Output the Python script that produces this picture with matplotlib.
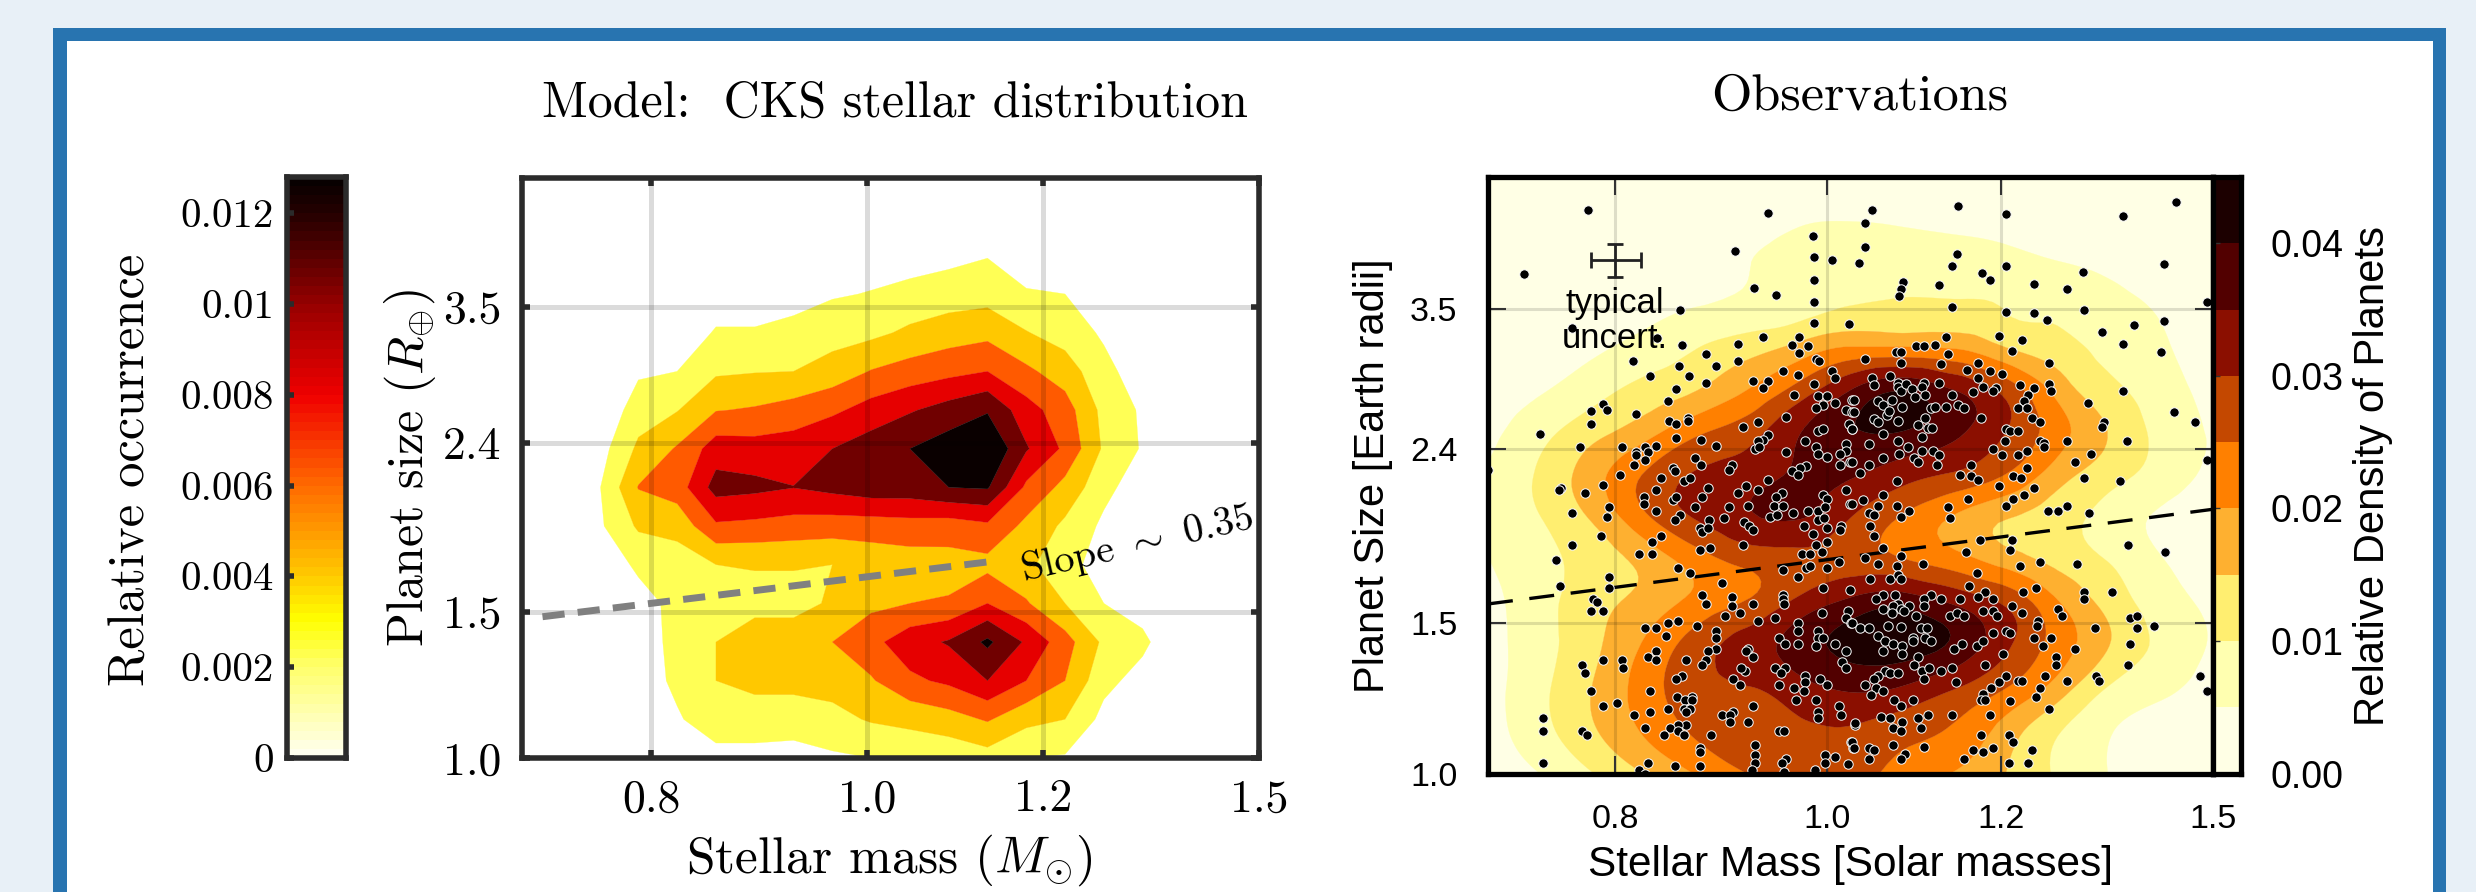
import numpy as np
import matplotlib
matplotlib.use("Agg")
import matplotlib.pyplot as plt
from matplotlib.colors import LinearSegmentedColormap, ListedColormap, BoundaryNorm
from matplotlib.patches import Rectangle
from matplotlib.ticker import NullLocator
from matplotlib.tri import Triangulation, UniformTriRefiner

W, H = 2476, 892
SERIF = "cmr10"
SANS = "Liberation Sans"
plt.rcParams["mathtext.fontset"] = "cm"
plt.rcParams["axes.formatter.use_mathtext"] = True

# ---------- data: left panel (relative occurrence, in units of 0.002), one list per mass column
model_columns = [
    [0]*16, [0]*16,
    [0,0,0,0,0,.3,.85,.95,.6,.2,0,0,0,0,0,0],
    [0,.1,.5,.5,.6,1.2,2.15,3.05,2.2,1.5,.85,.2,0,0,0,0],
    [0,.9,1.2,1.3,1.3,1.5,2.35,3.5,3.1,1.95,1.0,.3,0,0,0,0],
    [.7,1.5,2.0,2.0,1.6,2.0,3.85,5.4,4.5,2.95,1.85,1.1,.4,0,0,0],
    [.7,1.5,2.3,2.4,1.75,2.05,3.75,5.25,4.4,3.1,1.95,1.1,.4,0,0,0],
    [.6,1.5,2.3,2.4,1.75,2.05,3.6,5.02,4.5,3.4,2.0,1.3,.6,0,0,0],
    [.85,1.7,2.4,3.0,2.1,2.0,3.5,5.3,5.0,3.8,2.4,1.6,.9,.2,0,0],
    [1.0,2.1,2.9,3.7,2.75,2.35,3.5,5.6,5.5,4.4,3.05,1.75,1.05,.5,0,0],
    [1.2,2.3,3.8,4.6,3.0,2.5,3.6,5.6,6.0,4.9,3.4,2.2,1.25,.6,0,0],
    [1.3,2.6,4.2,5.1,3.1,2.6,3.5,6.0,6.5,5.4,3.7,2.5,1.5,.7,0,0],
    [1.6,3.1,5.0,6.2,4.0,2.7,3.8,6.1,7.0,5.9,4.0,2.7,1.6,.95,.2,0],
    [1.0,2.3,4.0,4.85,3.1,2.2,2.75,3.8,5.1,4.4,3.2,2.05,1.1,.4,0,0],
    [.9,2.0,3.0,3.4,2.0,1.4,1.8,2.7,3.8,3.45,2.5,1.55,1.0,.3,0,0],
    [0,.7,1.3,1.8,1.0,.5,.8,1.3,1.85,1.7,1.3,.85,.3,0,0,0],
    [0,0,.6,1.25,.5,0,0,.4,.9,.85,.45,0,0,0,0,0],
    [0]*16, [0]*16, [0]*16,
]
model_levels = [0.002, 0.004, 0.006, 0.008, 0.010, 0.012, 1.0]
model_colors = ["#ffff55", "#ffc800", "#ff5a00", "#e60000", "#700000", "#0a0000"]
occurrence_stops = [(0.0, "#ffffee"), (0.002, "#ffff66"), (0.003, "#ffff00"), (0.004, "#ffc800"),
                    (0.006, "#ff6a00"), (0.008, "#f00000"), (0.010, "#980000"), (0.012, "#280000"),
                    (0.0128, "#080000")]
slope_line_mass = [0.715, 1.135]
slope_line_radius = [1.48, 1.724]

# ---------- data: right panel (relative density, in units of 0.005), rows bottom to top
obs_rows = [
    [.3,1.0,1.95,3.0,4.05,5.0,5.2,5.3,4.65,3.95,3.0,1.85,.98,.55,.35],
    [.6,1.65,2.85,4.1,5.15,5.6,5.8,5.9,5.4,4.85,3.55,2.1,1.05,.65,.4],
    [.6,1.75,3.0,4.45,5.55,5.95,6.6,7.15,6.9,6.05,5.0,3.55,1.9,1.2,.6],
    [.65,1.6,2.75,4.1,5.45,6.45,7.5,8.3,8.5,7.8,6.2,4.55,3.0,1.75,.9],
    [.75,1.6,2.6,3.35,4.3,5.1,6.3,7.3,7.7,6.9,5.85,4.1,2.65,1.45,.8],
    [.98,1.65,2.4,3.3,4.45,5.3,5.6,5.5,5.1,4.45,3.55,2.7,1.95,1.05,.55],
    [1.15,1.97,3.1,4.75,6.05,6.85,7.05,6.0,4.9,3.9,3.05,2.4,1.6,.85,.5],
    [1.1,2.15,3.55,5.05,6.1,6.55,7.15,7.1,6.4,5.85,4.95,3.45,2.4,1.55,.75],
    [.75,1.65,2.65,3.6,4.8,5.6,6.95,7.9,7.95,7.2,6.0,4.4,2.95,1.7,.9],
    [.55,.9,1.6,2.3,2.95,4.0,5.4,7.0,7.95,7.0,5.65,3.65,2.3,1.4,.7],
    [.2,.35,.8,1.35,1.95,2.55,3.3,4.05,4.05,3.9,3.0,2.4,1.65,1.1,.55],
    [.15,.2,.35,.6,.95,1.2,1.5,1.98,2.1,2.1,1.95,1.7,1.25,.9,.4],
    [.15,.18,.22,.3,.5,.95,1.43,1.5,1.48,1.41,1.29,1.02,.8,.5,.3],
    [.1,.1,.15,.2,.3,.4,.85,.97,.9,.8,.7,.5,.35,.2,.1],
    [.05,.05,.05,.1,.1,.1,.25,.3,.3,.3,.25,.2,.15,.1,.05],
]
obs_colors = ["#ffffe5", "#ffffb0", "#ffee70", "#feb030", "#ff8000",
              "#c44800", "#8b0f00", "#520000", "#1c0000"]

# planets: (stellar mass, planet radius)
planets_upper_left = [
(.778,4.57),(.94,4.54),(.727,3.85),(.908,4.09),(.985,4.26),(1.04,4.42),(1.04,4.14),(.986,4.03),(1.005,4.0),
(.986,3.79),(.926,3.71),(.948,3.64),(.986,3.57),(.857,3.49),(.986,3.37),(1.023,3.36),(.765,3.33),(.836,3.24),
(.858,3.18),(.935,3.25),(.971,3.25),(.964,3.18),(.98,3.17),(.971,3.11),(.91,3.19),(.88,3.10),(.91,3.04),
(.988,3.06),(.991,3.04),(.815,3.04),(.856,3.0),(.89,3.0),(.83,2.92),(.865,2.92),(.955,2.96),(.97,2.93),
(1.005,2.96),(1.008,2.91),(.925,2.88),(.94,2.88),(.935,2.83),(.88,2.87),(.853,2.82),(.986,2.86),(.966,2.78),
(.846,2.73),(.79,2.71),(.78,2.66),(.793,2.67),(.818,2.64),(.78,2.57),(.99,2.77),(1.0,2.77),(.995,2.70),
(.988,2.68),(1.008,2.72),(1.02,2.67),(1.026,2.74),(1.026,2.65),(.958,2.62),(.864,2.61),(.864,2.59),(.847,2.59),
(.853,2.57),(.93,2.58),(.915,2.55),(.739,2.50),(.99,2.52),(.996,2.53),(1.023,2.57),(1.026,2.53),(.853,2.47),
(.876,2.46),(.94,2.49),(.935,2.46),(.93,2.45),(.927,2.40),(.931,2.41),(.977,2.45),(.771,2.41),(.806,2.41),
(.89,2.42),(.835,2.42),(.826,2.41),(.818,2.38),(.818,2.36),(.828,2.38),(.826,2.33),(.958,2.38),(.988,2.41),
(.99,2.37),(1.0,2.35),(1.02,2.43),(1.02,2.39),(1.013,2.37),(1.024,2.32),(.70,2.27),(.816,2.30),(.87,2.34),
(.876,2.30),(1.013,2.30),(.804,2.24),(.85,2.28),(.852,2.26),(.905,2.30),(.902,2.27),(.978,2.29),(.972,2.28),
(.964,2.26),(.97,2.24),(.84,2.22),(.86,2.20),(.866,2.22),(.94,2.21),
]
planets_upper_right = [
(1.048,4.58),(1.147,4.62),(1.207,4.53),(1.365,4.50),(1.443,4.68),(1.034,3.96),(1.146,4.06),(1.14,3.93),(1.207,3.93),
(1.176,3.86),(1.186,3.79),(1.308,3.87),(1.425,3.95),(1.083,3.77),(1.08,3.70),(1.078,3.63),(1.125,3.74),(1.243,3.75),
(1.287,3.70),(1.49,3.57),(1.14,3.52),(1.207,3.47),(1.243,3.46),(1.26,3.40),(1.31,3.49),(1.425,3.39),(1.38,3.35),
(1.335,3.29),(1.365,3.19),(1.42,3.12),(1.198,3.26),(1.227,3.22),(1.133,3.25),(1.098,3.17),(1.107,3.17),(1.12,3.18),
(1.135,3.10),(1.214,3.13),(1.075,3.12),(1.08,3.12),(1.04,3.06),(1.08,3.03),(1.127,3.02),(1.172,3.03),(1.262,3.03),
(1.158,2.97),(1.186,2.96),(1.202,2.94),(1.172,2.91),(1.048,2.91),(1.068,2.92),(1.077,2.87),(1.077,2.84),(1.08,2.81),
(1.05,2.85),(1.086,2.86),(1.093,2.82),(1.107,2.87),(1.105,2.84),(1.125,2.87),(1.178,2.84),(1.194,2.83),(1.19,2.81),
(1.225,2.85),(1.243,2.83),(1.263,2.86),(1.265,2.81),(1.365,2.81),(1.165,2.80),(1.14,2.78),(1.108,2.78),(1.097,2.76),
(1.235,2.78),(1.028,2.74),(1.055,2.73),(1.07,2.74),(1.06,2.70),(1.315,2.72),(1.23,2.73),(1.222,2.68),(1.233,2.68),
(1.082,2.69),(1.115,2.68),(1.12,2.69),(1.133,2.69),(1.147,2.70),(1.155,2.68),(1.028,2.65),(1.065,2.63),(1.067,2.66),
(1.44,2.65),(1.472,2.58),(1.05,2.60),(1.055,2.58),(1.077,2.59),(1.108,2.61),(1.175,2.61),(1.24,2.61),(1.25,2.58),
(1.338,2.58),(1.335,2.55),(1.10,2.56),(1.112,2.54),(1.116,2.54),(1.207,2.53),(1.212,2.52),(1.222,2.52),(1.06,2.50),
(1.105,2.48),(1.026,2.53),(1.077,2.45),(1.205,2.45),(1.25,2.45),(1.256,2.44),(1.256,2.41),(1.287,2.45),(1.37,2.45),
(1.045,2.43),(1.088,2.41),(1.105,2.39),(1.117,2.39),(1.19,2.40),(1.234,2.39),(1.078,2.37),(1.202,2.36),(1.222,2.36),
(1.32,2.37),(1.125,2.36),(1.06,2.34),(1.095,2.34),(1.10,2.32),(1.026,2.32),(1.49,2.33),(1.297,2.32),(1.045,2.30),
(1.163,2.30),(1.122,2.30),(1.234,2.28),(1.035,2.25),(1.15,2.24),(1.163,2.23),(1.172,2.21),(1.215,2.23),(1.226,2.22),
(1.31,2.22),(1.36,2.20),(1.076,2.20),
]
planets_lower_left = [
(.756,2.16),(.754,2.15),(.775,2.13),(.79,2.18),(.825,2.11),(.825,2.07),(.835,2.15),(.835,2.03),(.795,2.05),(.793,2.0),
(.765,2.02),(.788,1.90),(.765,1.85),(.752,1.78),(.755,1.66),(.795,1.70),(.795,1.65),(.782,1.60),(.785,1.59),(.78,1.55),
(.79,1.55),(.84,1.90),(.832,1.87),(.832,1.81),(.82,1.81),(.855,1.74),(.866,1.72),(.875,1.83),(.884,1.84),(.915,1.85),
(.85,2.09),(.853,2.11),(.857,2.01),(.852,1.98),(.87,2.05),(.877,2.11),(.882,2.16),(.883,1.98),(.875,1.94),(.877,1.92),
(.882,1.94),(.897,1.99),(.902,2.05),(.916,1.97),(.921,1.95),(.925,1.93),(.91,2.13),(.918,2.17),(.92,2.06),(.93,2.15),
(.954,2.13),(.948,2.11),(.946,2.06),(.955,2.06),(.942,2.0),(.949,2.01),(.965,2.02),(.98,2.03),(.99,2.03),(.995,2.12),
(1.0,2.10),(.998,2.05),(1.02,2.15),(1.024,2.07),(.99,1.98),(.997,1.99),(.976,1.95),(.985,1.91),(1.0,1.94),(1.015,1.95),
(1.013,1.93),(.988,1.85),(1.0,1.87),(.994,1.82),(.974,1.81),(.982,1.81),(1.012,1.77),(1.0,1.74),(.978,1.74),(.982,1.75),
(.955,1.73),(.97,1.70),(.895,1.67),(.995,1.65),(1.024,1.64),(.877,1.62),(.905,1.61),(.955,1.62),(.955,1.60),(.956,1.58),
(.88,1.58),(.905,1.57),(.925,1.58),(.912,1.54),(.898,1.53),(.93,1.51),(.947,1.52),(.994,1.54),(.97,1.50),(1.022,1.55),
(1.02,1.52),(1.025,1.50),(.855,1.51),(.846,1.50),(.826,1.48),(.835,1.48),(.844,1.45),(.872,1.49),(.89,1.47),(.89,1.44),
(.97,1.47),(.99,1.47),(.95,1.44),(.957,1.42),(.97,1.42),(.99,1.44),(.995,1.44),(.988,1.41),(1.008,1.42),(.89,1.40),
(.882,1.39),(.92,1.40),(.918,1.39),(.925,1.37),(.835,1.39),(.828,1.37),(.835,1.36),(.862,1.36),(.88,1.36),(.877,1.34),
(.79,1.36),(.806,1.36),(.807,1.33),(.773,1.34),(.775,1.31),(.947,1.33),(.957,1.33),(.952,1.31),(.917,1.32),(.913,1.33),
(1.02,1.39),(1.016,1.35),(1.02,1.33),(.977,1.30),(.858,1.30),(.853,1.29),(.906,1.29),(.912,1.27),(.992,1.29),(.977,1.28),
(.976,1.25),(.95,1.27),(1.0,1.27),(.966,1.26),(.78,1.25),(.83,1.25),(.867,1.23),(.854,1.23),(.861,1.22),(.867,1.22),
(.968,1.22),(.988,1.22),(.802,1.21),(.79,1.20),(1.012,1.20),(.925,1.20),(.846,1.19),(.86,1.19),(.866,1.19),(.862,1.18),
(.83,1.18),(.816,1.17),(.99,1.18),(.99,1.16),(1.014,1.17),(.895,1.17),(.906,1.18),(.903,1.17),(.903,1.15),(.92,1.15),
(.742,1.16),(.742,1.12),(.773,1.12),(.777,1.11),(.862,1.14),(.826,1.13),(.855,1.14),(.848,1.13),(.855,1.12),(.86,1.11),
(.842,1.11),(.885,1.11),(.95,1.12),(.956,1.12),(1.03,1.14),(.927,1.08),(.875,1.07),(.875,1.06),(1.025,1.09),(.742,1.03),
(.998,1.05),(1.008,1.045),(.927,1.05),(.927,1.03),(.958,1.04),(.954,1.03),(.828,1.03),(.82,1.01),(.852,1.02),(.875,1.02),
(.924,1.01),(.987,1.01),(.998,1.03),(1.022,1.025),(1.027,1.07),(.956,1.005),(.826,1.0),
]
planets_lower_right = [
(1.038,2.09),(1.06,2.12),(1.055,2.06),(1.076,2.06),(1.026,2.07),(1.045,2.02),(1.05,2.01),(1.08,2.0),(1.09,2.03),
(1.046,1.95),(1.05,1.90),(1.135,2.05),(1.138,1.99),(1.16,2.10),(1.198,2.17),(1.243,2.16),(1.23,2.12),(1.215,2.10),(1.207,2.06),
(1.261,2.03),(1.274,2.03),(1.287,2.06),(1.316,2.02),(1.06,1.84),(1.04,1.79),(1.08,1.80),(1.055,1.76),(1.076,1.75),(1.106,1.76),
(1.157,1.82),(1.174,1.88),(1.214,1.88),(1.212,1.83),(1.372,1.85),(1.426,1.82),(1.225,1.75),(1.25,1.77),(1.30,1.76),(1.171,1.72),
(1.046,1.69),(1.068,1.69),(1.077,1.71),(1.08,1.69),(1.161,1.66),(1.18,1.63),(1.172,1.61),(1.228,1.63),(1.245,1.65),(1.31,1.63),
(1.31,1.60),(1.349,1.63),(1.06,1.62),(1.053,1.60),(1.074,1.62),(1.077,1.58),(1.072,1.57),(1.115,1.62),(1.127,1.60),(1.107,1.60),
(1.107,1.57),(1.15,1.60),(1.19,1.60),(1.214,1.57),(1.09,1.57),(1.06,1.56),(1.08,1.56),(1.084,1.55),(1.07,1.54),(1.098,1.53),
(1.138,1.53),(1.146,1.54),(1.155,1.53),(1.178,1.55),(1.19,1.55),(1.195,1.53),(1.227,1.54),(1.275,1.56),(1.28,1.53),(1.375,1.52),
(1.385,1.53),(1.248,1.51),(1.247,1.49),(1.325,1.48),(1.385,1.48),(1.41,1.49),(1.026,1.50),(1.035,1.48),(1.045,1.48),(1.066,1.49),
(1.08,1.485),(1.103,1.48),(1.11,1.48),(1.055,1.45),(1.062,1.43),(1.072,1.42),(1.094,1.44),(1.094,1.43),(1.108,1.44),(1.115,1.43),
(1.082,1.41),(1.082,1.38),(1.06,1.39),(1.143,1.40),(1.152,1.42),(1.17,1.41),(1.178,1.43),(1.19,1.46),(1.207,1.47),(1.212,1.46),
(1.243,1.44),(1.265,1.44),(1.255,1.41),(1.297,1.40),(1.375,1.42),(1.203,1.38),(1.272,1.37),(1.10,1.37),(1.095,1.34),(1.105,1.32),
(1.113,1.33),(1.127,1.32),(1.14,1.33),(1.18,1.34),(1.272,1.34),(1.372,1.34),(1.062,1.32),(1.068,1.31),(1.077,1.31),(1.48,1.30),
(1.207,1.30),(1.222,1.285),(1.227,1.285),(1.257,1.30),(1.287,1.285),(1.326,1.30),(1.33,1.285),(1.055,1.30),(1.05,1.29),(1.107,1.29),
(1.04,1.27),(1.145,1.28),(1.198,1.28),(1.188,1.26),(1.25,1.26),(1.49,1.25),(1.053,1.26),(1.06,1.25),(1.047,1.235),(1.178,1.24),
(1.245,1.23),(1.073,1.22),(1.094,1.22),(1.175,1.22),(1.18,1.22),(1.212,1.215),(1.08,1.20),(1.263,1.19),(1.058,1.165),(1.068,1.16),
(1.082,1.15),(1.10,1.16),(1.112,1.17),(1.14,1.17),(1.187,1.17),(1.03,1.145),(1.072,1.13),(1.08,1.12),(1.103,1.13),(1.175,1.11),
(1.21,1.11),(1.215,1.09),(1.026,1.09),(1.028,1.07),(1.072,1.08),(1.045,1.07),(1.05,1.065),(1.107,1.075),(1.19,1.07),(1.178,1.06),
(1.165,1.065),(1.24,1.065),(1.085,1.055),(1.08,1.04),(1.155,1.04),(1.045,1.04),(1.21,1.03),(1.235,1.03),
]
trend_mass = [0.70, 1.50]
trend_radius = [1.58, 2.04]
uncert_mass, uncert_radius = 0.80, 4.0
uncert_xerr = [[0.02], [0.022]]
uncert_yerr = [[0.18], [0.17]]

mass_ticks = [0.8, 1.0, 1.2, 1.5]
mass_labels = ["0.8", "1.0", "1.2", "1.5"]
radius_ticks = [1.0, 1.5, 2.4, 3.5]
radius_labels = ["1.0", "1.5", "2.4", "3.5"]
occ_ticks = [0, 0.002, 0.004, 0.006, 0.008, 0.01, 0.012]
occ_labels = ["0", "0.002", "0.004", "0.006", "0.008", "0.01", "0.012"]
dens_ticks = [0.0, 0.01, 0.02, 0.03, 0.04]
dens_labels = ["0.00", "0.01", "0.02", "0.03", "0.04"]


def axes_px(x0, x1, ytop, ybot):
    return fig.add_axes([x0 / W, 1 - ybot / H, (x1 - x0) / W, (ybot - ytop) / H])


def fpx(x, y):
    return x / W, 1 - y / H


fig = plt.figure(figsize=(W / 100, H / 100), dpi=100, facecolor="#e8f0f7")
fig.add_artist(Rectangle((53 / W, 0), (2446 - 53) / W, (H - 28) / H, transform=fig.transFigure,
                         facecolor="#2874b0", edgecolor="none", zorder=-5))
fig.add_artist(Rectangle((67 / W, 0), (2433 - 67) / W, (H - 41) / H, transform=fig.transFigure,
                         facecolor="white", edgecolor="none", zorder=-4))

# ---------- left colour bar
DARK = "#2b2b2b"
cax = axes_px(286.5, 346, 177, 758)
cmap_occ = LinearSegmentedColormap.from_list(
    "occ", [(v / 0.0128, c) for v, c in occurrence_stops], N=64)
cax.pcolormesh([0, 1], np.linspace(0, 0.0128, 65), np.linspace(0, 0.0128, 64)[:, None],
               cmap=cmap_occ, vmin=0, vmax=0.0128, rasterized=True)
cax.set_xticks([])
cax.set_ylim(0, 0.0128)
cax.set_yticks(occ_ticks)
cax.set_yticklabels(occ_labels, family=SERIF, fontsize=29.5)
cax.tick_params(axis="y", direction="in", length=5, width=4, color=DARK, pad=9)
for s in cax.spines.values():
    s.set_linewidth(4)
    s.set_color(DARK)
fig.text(*fpx(132, 470), "Relative occurrence", family=SERIF, fontsize=36.5, rotation=90,
         ha="center", va="center")

# ---------- left panel
ax = axes_px(522, 1259, 178, 758)
ax.set_xscale("log")
ax.set_yscale("log")
model_mass = np.geomspace(0.7, 1.5, 20)
model_radius = np.geomspace(1.0, 5.0, 16)
Z = np.array(model_columns).T * 0.002
cs = ax.contourf(model_mass, model_radius, Z, levels=model_levels, colors=model_colors, antialiased=True)
cs.set_edgecolor("face")
cs.set_linewidth(0.2)
ax.set_xlim(0.7, 1.5)
ax.set_ylim(1.0, 5.0)
ax.xaxis.set_minor_locator(NullLocator())
ax.yaxis.set_minor_locator(NullLocator())
ax.set_xticks(mass_ticks)
ax.set_xticklabels(mass_labels, family=SERIF, fontsize=33)
ax.set_yticks(radius_ticks)
ax.set_yticklabels(radius_labels, family=SERIF, fontsize=33)
ax.tick_params(axis="both", which="major", direction="in", length=6, width=4, color=DARK,
               top=True, right=True, pad=15)
ax.grid(True, color="black", alpha=0.14, linewidth=3.6)
ax.set_axisbelow(False)
for s in ax.spines.values():
    s.set_linewidth(4)
    s.set_color(DARK)
    s.set_zorder(5)
ax.plot(slope_line_mass, slope_line_radius, color="#808080", lw=5, dashes=(3.2, 1.9), zorder=4)
fig.text(*fpx(1137, 544), r"Slope $\sim$ 0.35", family=SERIF, fontsize=29, rotation=13,
         ha="center", va="center")
fig.text(*fpx(895, 104), "Model:  CKS stellar distribution", family=SERIF, fontsize=36,
         ha="center", va="center")
fig.text(*fpx(410, 468), r"Planet size ($R_{\oplus}$)", family=SERIF, fontsize=36, rotation=90,
         ha="center", va="center")
fig.text(*fpx(889, 860), r"Stellar mass ($M_{\odot}$)", family=SERIF, fontsize=37,
         ha="center", va="center")

# ---------- right panel
axr = axes_px(1488, 2213, 177, 773.5)
axr.set_xscale("log")
axr.set_yscale("log")
lnm, lnr = np.meshgrid(np.linspace(np.log(0.7), np.log(1.5), 15), np.linspace(0, np.log(5.0), 15))
dens = np.array(obs_rows) * 0.005
tri = Triangulation(lnm.ravel(), lnr.ravel())
ref, zref = UniformTriRefiner(tri).refine_field(dens.ravel(), subdiv=3)
tri_plot = Triangulation(np.exp(ref.x), np.exp(ref.y), ref.triangles)
obs_levels = [-1.0, .005, .01, .015, .02, .025, .03, .035, .04, 1.0]
axr.set_facecolor(obs_colors[0])
ct = axr.tricontourf(tri_plot, zref, levels=obs_levels, colors=obs_colors, antialiased=True)
ct.set_edgecolor("face")
ct.set_linewidth(0.2)
axr.set_xlim(0.7, 1.5)
axr.set_ylim(1.0, 5.0)
axr.xaxis.set_minor_locator(NullLocator())
axr.yaxis.set_minor_locator(NullLocator())
axr.set_xticks(mass_ticks)
axr.set_xticklabels(mass_labels, family=SANS, fontsize=24.5)
axr.set_yticks(radius_ticks)
axr.set_yticklabels(radius_labels, family=SANS, fontsize=24.5)
axr.tick_params(axis="both", which="major", direction="in", length=13, width=1.5, color="#333333",
                top=True, right=True, pad=22)
axr.grid(True, color="black", alpha=0.13, linewidth=2.2)
pts = np.array(planets_upper_left + planets_upper_right + planets_lower_left + planets_lower_right)
axr.plot(trend_mass, trend_radius, color="black", lw=2.4, dashes=(7.5, 5), zorder=3)
axr.scatter(pts[:, 0], pts[:, 1], s=46, c="black", edgecolors="white", linewidths=0.7, zorder=4)
axr.errorbar([uncert_mass], [uncert_radius], xerr=uncert_xerr, yerr=uncert_yerr, color="#222222",
             elinewidth=2, capsize=6, capthick=2, zorder=5)
axr.text(uncert_mass, 3.55, "typical", family=SANS, fontsize=25, ha="center", va="center", zorder=6)
axr.text(uncert_mass, 3.23, "uncert.", family=SANS, fontsize=25, ha="center", va="center", zorder=6)
for s in axr.spines.values():
    s.set_linewidth(3.8)
    s.set_color("black")
    s.set_zorder(7)
fig.text(*fpx(1860, 97), "Observations", family=SERIF, fontsize=37.5, ha="center", va="center")
fig.text(*fpx(1373, 476), "Planet Size [Earth radii]", family=SANS, fontsize=30, rotation=90,
         ha="center", va="center")
fig.text(*fpx(1851, 865), "Stellar Mass [Solar masses]", family=SANS, fontsize=30.5,
         ha="center", va="center")

# ---------- right colour bar
cb = axes_px(2213, 2241, 177, 773.5)
bands = np.arange(0, 0.0451, 0.005)
cb.pcolormesh([0, 1], bands, (bands[:-1] + 0.0025)[:, None],
              cmap=ListedColormap(obs_colors), norm=BoundaryNorm(bands, 9))
cb.set_xticks([])
cb.set_ylim(0, 0.045)
cb.yaxis.tick_right()
cb.set_yticks(dens_ticks)
cb.set_yticklabels(dens_labels, family=SANS, fontsize=27)
cb.tick_params(axis="y", direction="in", length=5, width=1, color="#333333", pad=21, left=True, right=False,
               labelright=True, labelleft=False)
for s in cb.spines.values():
    s.set_linewidth(3.8)
    s.set_color("black")
fig.text(*fpx(2373, 476), "Relative Density of Planets", family=SANS, fontsize=30.2, rotation=90,
         ha="center", va="center")

fig.savefig("out.png", dpi=100, facecolor=fig.get_facecolor())
